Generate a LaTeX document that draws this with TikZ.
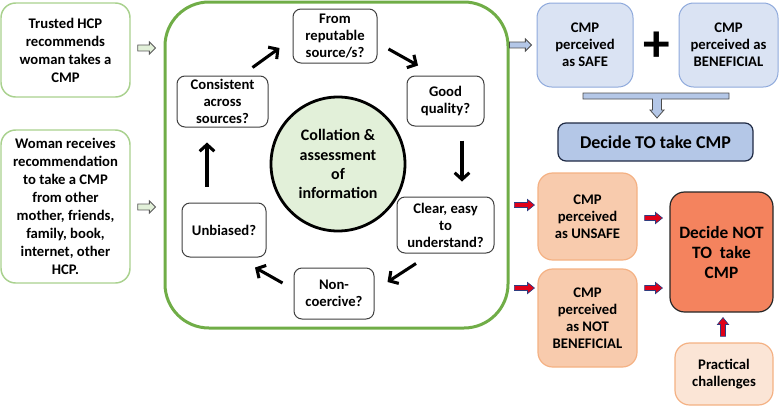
\documentclass[tikz,border=0pt]{standalone}
\usepackage{fontspec}
\setmainfont{Carlito}
\usetikzlibrary{arrows.meta,calc}
\definecolor{lgreen}{HTML}{A9D18E}
\definecolor{mgreen}{HTML}{70AD47}
\definecolor{pgreen}{HTML}{E2F0D9}
\definecolor{pblue}{HTML}{DAE3F3}
\definecolor{bblue}{HTML}{8FAADC}
\definecolor{mblue}{HTML}{B4C7E7}
\definecolor{dblue}{HTML}{1F2A44}
\definecolor{porange}{HTML}{F8CBAD}
\definecolor{borange}{HTML}{F4B183}
\definecolor{vporange}{HTML}{FBE5D6}
\definecolor{sorange}{HTML}{F4835E}
\definecolor{redarr}{HTML}{E00018}
\definecolor{navy}{HTML}{2E3D80}
\newcommand{\rarrow}[6]{\draw[#1] let \p1=#2, \p2=#3 in (\x1,\y1+#4) -- (\x2-#6,\y1+#4) -- (\x2-#6,\y1+#5) -- (\x2,\y1) -- (\x2-#6,\y1-#5) -- (\x2-#6,\y1-#4) -- (\x1,\y1-#4) -- cycle;}
\newcommand{\uarrow}[6]{\draw[#1] let \p1=#2, \p2=#3 in (\x1-#4,\y1) -- (\x1-#4,\y2-#6) -- (\x1-#5,\y2-#6) -- (\x1,\y2) -- (\x1+#5,\y2-#6) -- (\x1+#4,\y2-#6) -- (\x1+#4,\y1) -- cycle;}
\tikzset{
  base/.style={align=center, inner sep=0pt, font=\fontsize{11}{13.5}\selectfont\bfseries},
  greenbox/.style={base, draw=lgreen, line width=1.1pt, rounded corners=11pt, fill=white},
  cycbox/.style={base, draw=black!75, line width=0.75pt, rounded corners=6pt, fill=white, font=\fontsize{11}{12.8}\selectfont\bfseries},
  bluebox/.style={base, draw=bblue, line width=0.75pt, rounded corners=11pt, fill=pblue, font=\fontsize{11}{12.8}\selectfont\bfseries},
  orbox/.style={base, draw=borange, line width=0.9pt, rounded corners=11pt, fill=porange, font=\fontsize{11}{12.8}\selectfont\bfseries},
  cyc/.style={line width=2.3pt, -{Straight Barb[length=5pt,width=11pt]}},
  greenarr/.style={draw=black!65, fill=pgreen, line width=0.6pt},
  bluearr/.style={draw=black!70, fill=mblue, line width=0.6pt},
  redarrow/.style={draw=navy, fill=redarr, line width=0.5pt},
}
\begin{document}
\begin{tikzpicture}[x=0.75pt,y=-0.75pt]
\useasboundingbox (0,0) rectangle (779,415);
% left boxes
\node[greenbox, minimum width=96.75pt, minimum height=70.5pt] (trusted) at (65.5,50) {Trusted HCP\\recommends\\woman takes a\\CMP};
\node[greenbox, minimum width=96.75pt, minimum height=114.75pt] (woman) at (65.5,206.5) {Woman receives\\recommendation\\to take a CMP\\from other\\mother, friends,\\family, book,\\internet, other\\HCP.};
% big box
\node[draw=mgreen, line width=2.25pt, rounded corners=33pt, minimum width=257.25pt, minimum height=244.5pt, inner sep=0pt] (big) at (336.5,165) {};
\node[circle, draw=black, line width=2.1pt, fill=pgreen, minimum size=100.5pt, inner sep=0pt, align=center, font=\fontsize{12}{14.3}\selectfont\bfseries] (coll) at (338,164) {Collation \&\\assessment\\of\\information};
\node[cycbox, minimum width=63pt, minimum height=40.5pt] (from) at (335,36) {From\\reputable\\source/s?};
\node[cycbox, minimum width=57.75pt, minimum height=37.5pt] (good) at (445.5,101) {Good\\quality?};
\node[cycbox, minimum width=72.75pt, minimum height=42pt] (clear) at (445.5,225) {Clear, easy\\to\\understand?};
\node[cycbox, minimum width=60pt, minimum height=38.25pt] (noncoer) at (334,293.5) {Non-\\coercive?};
\node[cycbox, minimum width=63pt, minimum height=40.5pt] (unbiased) at (224,230) {Unbiased?};
\node[cycbox, minimum width=68.25pt, minimum height=38.25pt] (consistent) at (222.5,101.5) {Consistent\\across\\sources?};
% cycle arrows
\draw[cyc] ($(consistent.north)+(30,-8)$) -- ($(from.west)+(-13,12)$);
\draw[cyc] ($(from.east)+(11,13)$) -- ($(good.north)+(-27.5,-10)$);
\draw[cyc] ($(good.south)+(16.5,14)$) -- ($(clear.north)+(16.5,-15)$);
\draw[cyc] ($(clear.south)+(-29.5,10)$) -- ($(noncoer.east)+(13,-11.5)$);
\draw[cyc] ($(noncoer.west)+(-11,-10.5)$) -- ($(unbiased.south)+(31,10)$);
\draw[cyc] ($(unbiased.north)+(-17,-16)$) -- ($(consistent.south)+(-15.5,15)$);
% green hollow arrows
\rarrow{greenarr}{($(trusted.east)+(7,-2)$)}{($(big.west)+(-8,0)$)}{2.2pt}{4.6pt}{4.6pt}
\rarrow{greenarr}{($(woman.east)+(7,0.5)$)}{($(big.west)+(-8,0)$)}{2.2pt}{4.6pt}{4.6pt}
% right top
\node[bluebox, minimum width=72pt, minimum height=63pt] (safe) at (585,45) {CMP\\perceived\\as SAFE};
\node[bluebox, minimum width=74.25pt, minimum height=63pt] (benef) at (728.5,45) {CMP\\perceived as\\BENEFICIAL};
\node[font=\fontsize{40}{40}\selectfont\bfseries, inner sep=0pt] (plus) at (657,47) {+};
\node[base, draw=dblue, line width=0.9pt, rounded corners=6pt, fill=mblue, minimum width=146.25pt, minimum height=28.5pt, font=\fontsize{13.5}{16}\selectfont\bfseries] (decideto) at (655.5,142) {Decide TO take CMP};
\rarrow{bluearr}{($(safe.west)+(-27,0)$)}{($(safe.west)+(-5,0)$)}{2.2pt}{4.6pt}{4.6pt}
\draw[bluearr] (583,93) -- (729,93) -- (729,99) -- (661.5,99) -- (661.5,110) -- (664,110) -- (657,118) -- (650,110) -- (652.5,110) -- (652.5,99) -- (583,99) -- cycle;
% right bottom
\node[orbox, minimum width=74.25pt, minimum height=65.25pt] (unsafe) at (587.5,216.5) {CMP\\perceived\\as UNSAFE};
\node[orbox, minimum width=74.25pt, minimum height=73.5pt] (notben) at (587.5,318) {CMP\\perceived\\as NOT\\BENEFICIAL};
\node[base, draw=black!85, line width=0.9pt, rounded corners=11pt, fill=sorange, minimum width=77.25pt, minimum height=90pt, font=\fontsize{13}{15}\selectfont\bfseries] (decidenot) at (721.5,252) {Decide NOT\\TO\ \ take\\CMP};
\node[orbox, fill=vporange, minimum width=73.5pt, minimum height=46.5pt] (practical) at (724,374) {Practical\\challenges};
% red arrows
\rarrow{redarrow}{($(unsafe.west)+(-23,-11.5)$)}{($(unsafe.west)+(-3,0)$)}{1.9pt}{4.2pt}{5.2pt}
\rarrow{redarrow}{($(notben.west)+(-23,-30)$)}{($(notben.west)+(-3,0)$)}{1.9pt}{4.2pt}{5.2pt}
\rarrow{redarrow}{($(unsafe.east)+(7,1.5)$)}{($(decidenot.west)+(-7,0)$)}{1.9pt}{4.2pt}{5.2pt}
\rarrow{redarrow}{($(notben.east)+(7,-30)$)}{($(decidenot.west)+(-7,0)$)}{1.9pt}{4.2pt}{5.2pt}
\uarrow{redarrow}{($(practical.north)+(-1,-6)$)}{($(decidenot.south)+(0,5)$)}{1.9pt}{4.2pt}{5.2pt}
\end{tikzpicture}
\end{document}
